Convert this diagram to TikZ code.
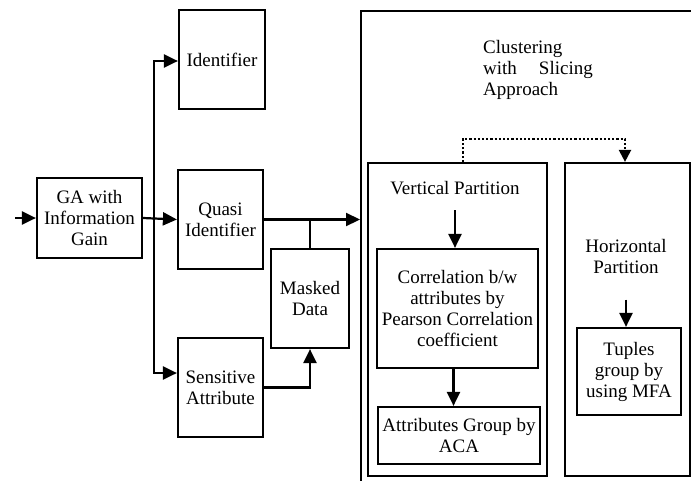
\documentclass[tikz,border=0pt]{standalone}
\usepackage{fontspec}
\setmainfont{Liberation Serif}
\usetikzlibrary{arrows.meta, positioning, calc}

\begin{document}
\begin{tikzpicture}[
        x=1pt, y=-1pt,
        every node/.style={font=\fontsize{19}{21}\selectfont},
        blockbox/.style={draw, line width=2.2pt, align=center, inner sep=2pt},
        partbox/.style={draw, line width=2.2pt, minimum width=#1, minimum height=313pt},
        arrow/.style={-{Triangle[length=14pt, width=13pt]}, line width=2.2pt},
        link/.style={line width=2.2pt},
    ]
    \clip (0,0) rectangle (691,480);
        % Input side
        \coordinate (entry) at (15,218);
        \node[blockbox, minimum width=105pt, minimum height=80pt] (ga) at (89.5,218)
            {GA with\\Information\\Gain};
        \node[blockbox, minimum width=86pt, minimum height=99pt] (ident) at (222,59.5) {Identifier};
        \node[blockbox, minimum width=85pt, minimum height=99pt] (quasi) at (220.5,219.5) {Quasi\\Identifier};
        \node[blockbox, minimum width=85pt, minimum height=99pt] (sens) at (220.5,387.5) {Sensitive\\Attribute};
        \node[blockbox, minimum width=78pt, minimum height=99pt] (masked) at (310,298.5) {Masked\\Data};
        \coordinate (split) at (154,218);

        % Clustering block
        \node[draw, line width=2.2pt, anchor=north west, minimum width=360pt, minimum height=500pt]
            (slicing) at (360,10) {};
        \node[anchor=north west, align=left, inner sep=0pt] (title) at (483,40)
            {Clustering\\with\hspace{22pt}Slicing\\Approach};

        % Vertical partition
        \node[partbox=179pt] (vp) at (457.5,319.5) {};
        \node (vptext) at (455,188) {Vertical Partition};
        \node[blockbox, minimum width=161pt, minimum height=119pt] (corr) at (457.5,308.5)
            {Correlation b/w\\attributes by\\Pearson Correlation\\coefficient};
        \node[blockbox, minimum width=162pt, minimum height=57pt] (aca) at (459,435.5)
            {Attributes Group by\\ACA};

        % Horizontal partition
        \node[partbox=125pt] (hp) at (627.5,319.5) {};
        \node[align=center] (hptext) at (626,256) {Horizontal\\Partition};
        \node[blockbox, minimum width=104pt, minimum height=87pt] (tup) at (629,371.5)
            {Tuples\\group by\\using MFA};

        % Arrows
        \draw[arrow] (entry) -- (ga.west);
        \draw[arrow] (ga.east) -- (quasi.west);
        \draw[arrow] (split) |- ([yshift=-1.5pt]ident.west);
        \draw[arrow] (split) |- ([yshift=14.5pt]sens.west);
        \draw[arrow] (quasi.east) -- (quasi.east -| slicing.west);
        \draw[link] (masked.north) -- (masked.north |- quasi.east);
        \draw[arrow] (sens.east) -| (masked.south);
        \draw[arrow] (vptext.south -| corr.north) ++(-2.5,12) -- ([xshift=-2.5pt]corr.north);
        \draw[arrow] ([xshift=-4pt]corr.south) -- ([xshift=-5.5pt]aca.north);
        \draw[arrow] (hptext.south) ++(0,23) -- ([xshift=-3pt]tup.north);
        \draw[link, dotted, -{Triangle[length=12pt, width=12pt]}] ([xshift=5.5pt]vp.north) -- ++(0,-23) -| ([xshift=-2.5pt]hp.north);

    \end{tikzpicture}
\end{document}
